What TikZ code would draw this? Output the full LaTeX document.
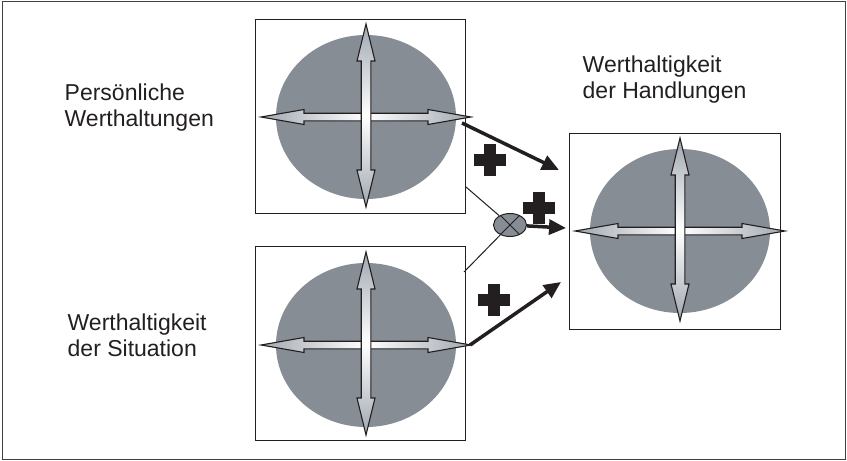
\documentclass[tikz,border=0pt]{standalone}
\usepackage{fontspec}
\setmainfont{Liberation Sans}
\usetikzlibrary{arrows.meta,shapes.geometric}

\definecolor{discgray}{RGB}{134,141,148}
\definecolor{tipgray}{RGB}{160,167,176}
\definecolor{ink}{RGB}{35,31,32}

\begin{document}
\begin{tikzpicture}[x=1pt,y=-1pt,
            frame/.style={draw=ink, line width=0.9pt, inner sep=0pt, minimum width=210pt, minimum height=194pt},
            label/.style={anchor=north west, align=left, inner sep=0pt, text=ink, font=\fontsize{23}{26}\selectfont},
            link/.style={draw=ink, line width=1pt},
            push/.style={draw=ink, line width=3.5pt, -{Triangle[length=17pt,width=15pt]}}]
            \tikzset{wheel/.pic={
                \fill[discgray] (0,0) ellipse [x radius=90pt, y radius=82pt];
                \draw[ink, line width=1.1pt, left color=tipgray, right color=tipgray, middle color=white]
                    (-105,0) -- (-62,-7.5) -- (-62,-3.8) -- (62,-3.8) -- (62,-7.5) -- (105,0)
                    -- (62,7.5) -- (62,3.8) -- (-62,3.8) -- (-62,7.5) -- cycle;
                \draw[ink, line width=1.1pt, top color=tipgray, bottom color=tipgray, middle color=white]
                    (0,-93) -- (9,-56) -- (4.8,-56) -- (4.8,53) -- (9,53) -- (0,90)
                    -- (-9,53) -- (-4.8,53) -- (-4.8,-56) -- (-9,-56) -- cycle;
            }}
            \tikzset{plus sign/.pic={
                \fill[ink] (-16,-6) rectangle (16,6);
                \fill[ink] (-6,-16) rectangle (6,16);
            }}
            \useasboundingbox (0,0) rectangle (847,461);
            \draw[black!75, line width=1.6pt] (2.5,1.5) rectangle (845.5,459.5);

            % the three value spaces
            \node[frame] (pers) at (360,116) {};
            \node[frame] (sit) at (360,343) {};
            \node[frame, minimum width=211pt, minimum height=196pt] (hand) at (674.5,231) {};
            \pic at (366,117) {wheel};
            \pic at (366,345) {wheel};
            \pic at (680,231) {wheel};

            \node[label] (lpers) at (64.5,84) {Persönliche\\Werthaltungen};
            \node[label] (lsit) at (67.5,314) {Werthaltigkeit\\der Situation};
            \node[label] (lhand) at (582.5,56) {Werthaltigkeit\\der Handlungen};

            % interaction
            \node[ellipse, draw=ink, fill=discgray, line width=1pt, inner sep=0pt,
                  minimum width=33pt, minimum height=23pt] (ot) at (510,225) {};
            \draw[link] (ot.45) -- (ot.225) (ot.135) -- (ot.315);
            \coordinate (c1) at (466,187);
            \coordinate (c2) at (464,272);
            \draw[link] (c1) -- (ot);
            \draw[link] (c2) -- (ot);

            \coordinate (a1) at (462,123);
            \coordinate (t1) at (559,170);
            \coordinate (t2) at (566,228);
            \coordinate (a3) at (470,345);
            \coordinate (t3) at (561,282);
            \draw[push] (a1) -- (t1);
            \draw[push] (ot) -- (t2);
            \draw[push] (a3) -- (t3);

            \pic at (490,160) {plus sign};
            \pic at (539,208) {plus sign};
            \pic at (494,300) {plus sign};
        \end{tikzpicture}
\end{document}
